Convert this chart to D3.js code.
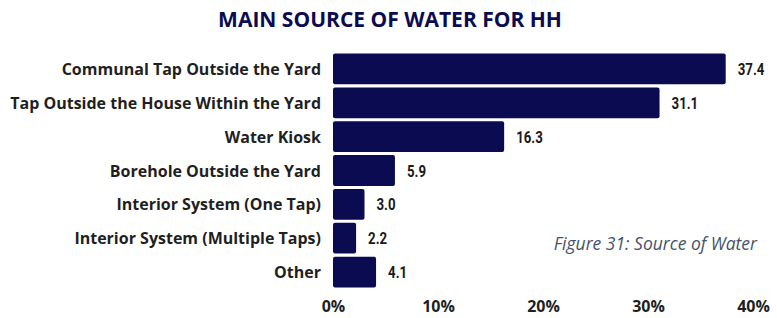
<!doctype html>
<html>
<head>
<meta charset="utf-8">
<script src="https://cdn.jsdelivr.net/npm/d3@7"></script>
<style>
	body { margin: 0; background: #fff; }
	svg { display: block; }
</style>
</head>
<body>
<script>
	// values
	var categories = ["Communal Tap Outside the Yard", "Tap Outside the House Within the Yard", "Water Kiosk",
		"Borehole Outside the Yard", "Interior System (One Tap)", "Interior System (Multiple Taps)", "Other"]
	var values = [37.4, 31.1, 16.3, 5.9, 3.0, 2.2, 4.1]
	var ticks = [0, 10, 20, 30, 40]
	var title = "MAIN SOURCE OF WATER FOR HH"
	var caption = "Figure 31: Source of Water"

	var width = 777
	var height = 318
	var navy = "#0b0b52"

	var svg = d3.select("body")
		.append("svg")
		.attr("width", width)
		.attr("height", height)

	var x = d3.scaleLinear().domain([0, 40]).range([333, 753])
	var y = d3.scaleBand().domain(categories).range([52, 289]).paddingInner(0.09).paddingOuter(0.045)

	svg.append("text")
		.attr("x", 390)
		.attr("y", 27)
		.attr("text-anchor", "middle")
		.attr("font-family", "Open Sans")
		.attr("font-weight", "bold")
		.attr("font-size", 21)
		.attr("fill", navy)
		.text(title)

	svg.selectAll("rect.bar")
		.data(values)
		.enter()
		.append("rect")
		.attr("class", "bar")
		.attr("x", x(0))
		.attr("y", function(d, i) { return y(categories[i]) })
		.attr("width", function(d) { return x(d) - x(0) })
		.attr("height", y.bandwidth())
		.attr("rx", 2)
		.attr("fill", navy)

	// condensed look for the value labels
	svg.selectAll("text.val")
		.data(values)
		.enter()
		.append("text")
		.attr("class", "val")
		.attr("transform", function(d, i) {
			return "translate(" + (x(d) + 12) + "," + (y(categories[i]) + y.bandwidth() / 2 + 6) + ") scale(0.78,1)"
		})
		.attr("font-family", "Roboto")
		.attr("font-weight", "bold")
		.attr("font-size", 17)
		.attr("fill", "#1a1a1a")
		.text(function(d) { return d.toFixed(1) })

	svg.selectAll("text.cat")
		.data(categories)
		.enter()
		.append("text")
		.attr("class", "cat")
		.attr("x", 321)
		.attr("y", function(d) { return y(d) + y.bandwidth() / 2 + 6 })
		.attr("text-anchor", "end")
		.attr("font-family", "Open Sans")
		.attr("font-weight", "bold")
		.attr("font-size", 16)
		.attr("fill", "#1f1f1f")
		.text(function(d) { return d })

	var xAxis = d3.axisBottom(x)
		.tickValues(ticks)
		.tickSize(0)
		.tickPadding(0)
		.tickFormat(function(d) { return d + "%" })

	var ax = svg.append("g")
		.attr("transform", "translate(0, 301)")
		.call(xAxis)
	ax.select(".domain").remove()
	ax.selectAll("text")
		.attr("font-family", "Open Sans")
		.attr("font-weight", "bold")
		.attr("font-size", 16)
		.attr("fill", "#1f1f1f")

	svg.append("text")
		.attr("x", 757)
		.attr("y", 250)
		.attr("text-anchor", "end")
		.attr("font-family", "Open Sans")
		.attr("font-style", "italic")
		.attr("font-size", 17.5)
		.attr("fill", "#44546a")
		.text(caption)
</script>
</body>
</html>
